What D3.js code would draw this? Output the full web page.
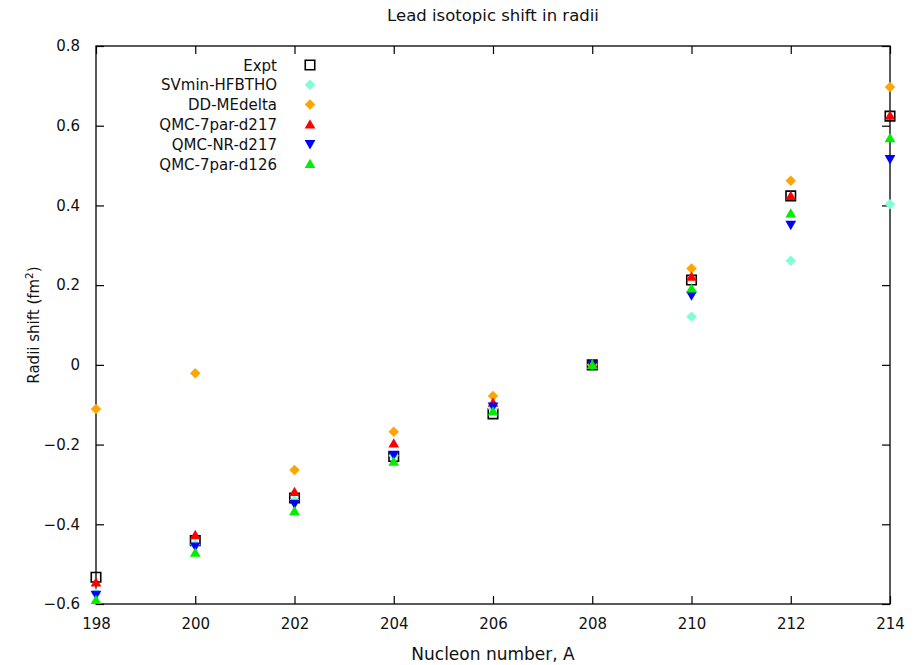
<!DOCTYPE html>
<html>
<head>
<meta charset="utf-8">
<script src="https://cdn.jsdelivr.net/npm/d3@7"></script>
<style>
  body { margin: 0; background: #fff; }
  text { font-family: "DejaVu Sans", sans-serif; fill: #111; }
</style>
</head>
<body>
<div id="chart_area"></div>
<script>
// nucleon numbers
var massNumbers = [198, 200, 202, 204, 206, 208, 210, 212, 214];

// shift in radii (fm^2) per series
var expt      = [-0.533, -0.441, -0.334, -0.230, -0.123, 0, 0.213, 0.424, 0.624];
var svmin     = [-0.573, -0.450, -0.340, -0.228, -0.110, 0, 0.121, 0.261, 0.403];
var ddme      = [-0.111, -0.021, -0.264, -0.168, -0.078, 0, 0.242, 0.462, 0.697];
var qmc7d217  = [-0.546, -0.427, -0.319, -0.197, -0.095, 0, 0.221, 0.424, 0.625];
var qmcNRd217 = [-0.577, -0.456, -0.349, -0.226, -0.105, 0, 0.174, 0.351, 0.516];
var qmc7d126  = [-0.590, -0.471, -0.367, -0.243, -0.117, 0, 0.192, 0.380, 0.569];

var seriesNames = ["Expt", "SVmin-HFBTHO", "DD-MEdelta", "QMC-7par-d217", "QMC-NR-d217", "QMC-7par-d126"];
var xTicks = [198, 200, 202, 204, 206, 208, 210, 212, 214];
var yTicks = [-0.6, -0.4, -0.2, 0, 0.2, 0.4, 0.6, 0.8];

var series = [
	{name: seriesNames[0], values: expt,      shape: "square",  color: "#000000"},
	{name: seriesNames[1], values: svmin,     shape: "diamond", color: "#7fffd4"},
	{name: seriesNames[2], values: ddme,      shape: "diamond", color: "#ffa500"},
	{name: seriesNames[3], values: qmc7d217,  shape: "up",      color: "#ff0000"},
	{name: seriesNames[4], values: qmcNRd217, shape: "down",    color: "#0000ff"},
	{name: seriesNames[5], values: qmc7d126,  shape: "up",      color: "#00ee00"}
];

// sizes
var margin = {top: 46, right: 27, bottom: 61, left: 96};
var frame_width = 917;
var frame_height = 665;
var canvas_width = frame_width - margin.left - margin.right;
var canvas_height = frame_height - margin.top - margin.bottom;

var frame = d3.select("#chart_area").append("svg")
	.attr("width", frame_width)
	.attr("height", frame_height);
var canvas = frame.append("g")
	.attr("transform", "translate(" + margin.left + "," + margin.top + ")");

var xScale = d3.scaleLinear().domain([198, 214]).range([0, canvas_width]);
var yScale = d3.scaleLinear().domain([-0.6, 0.8]).range([canvas_height, 0]);

// ticks inward, mirrored on all sides (gnuplot style)
var tickLen = 8;
var yFmt = function(d) { return d === 0 ? "0" : d3.format(".1f")(d); };

var xAxis = d3.axisBottom(xScale).tickValues(xTicks).tickSize(-tickLen).tickPadding(14).tickFormat(d3.format("d"));
var yAxis = d3.axisLeft(yScale).tickValues(yTicks).tickSize(-tickLen).tickPadding(16).tickFormat(yFmt);
var xTop = d3.axisTop(xScale).tickValues(xTicks).tickSize(-tickLen).tickFormat("");
var yRight = d3.axisRight(yScale).tickValues(yTicks).tickSize(-tickLen).tickFormat("");

function styleAxis(g) {
	g.select(".domain").remove();
	g.selectAll(".tick line").attr("stroke", "#000").attr("stroke-width", 1.2);
	g.selectAll(".tick text").style("font-size", "15px").attr("fill", "#111");
}

canvas.append("g").attr("transform", "translate(0," + canvas_height + ")").call(xAxis).call(styleAxis);
canvas.append("g").call(yAxis).call(styleAxis);
canvas.append("g").call(xTop).call(styleAxis);
canvas.append("g").attr("transform", "translate(" + canvas_width + ",0)").call(yRight).call(styleAxis);

// border
canvas.append("rect")
	.attr("width", canvas_width)
	.attr("height", canvas_height)
	.attr("fill", "none")
	.attr("stroke", "#000")
	.attr("stroke-width", 1.3);

// labels
frame.append("text")
	.attr("x", margin.left + canvas_width / 2)
	.attr("y", 21)
	.attr("text-anchor", "middle")
	.style("font-size", "16.5px")
	.text("Lead isotopic shift in radii");

frame.append("text")
	.attr("x", margin.left + canvas_width / 2)
	.attr("y", 660)
	.attr("text-anchor", "middle")
	.style("font-size", "17px")
	.text("Nucleon number, A");

var ylab = frame.append("text")
	.attr("transform", "translate(39," + (margin.top + canvas_height / 2) + ") rotate(-90)")
	.attr("text-anchor", "middle")
	.style("font-size", "15px");
ylab.append("tspan").text("Radii shift (fm");
ylab.append("tspan").attr("dy", -6).style("font-size", "10.5px").text("2");
ylab.append("tspan").attr("dy", 6).text(")");

// marker shapes
var symbols = {
	square: d3.symbol().type(d3.symbolSquare).size(90),
	diamond: d3.symbol().type(d3.symbolSquare).size(55),
	up: d3.symbol().type(d3.symbolTriangle).size(50),
	down: d3.symbol().type(d3.symbolTriangle).size(50)
};

function drawMarker(sel, s) {
	sel.attr("d", symbols[s.shape]())
		.attr("fill", s.shape === "square" ? "none" : s.color)
		.attr("stroke", s.shape === "square" ? s.color : "none")
		.attr("stroke-width", 1.6);
}

function markerTransform(s, x, y) {
	var t = "translate(" + x + "," + y + ")";
	if (s.shape === "diamond") t += " rotate(45)";
	if (s.shape === "down") t += " rotate(180)";
	if (s.shape === "up" || s.shape === "down") t += " translate(0,1)";
	return t;
}

var data_canvas = canvas.append("g").attr("class", "data_canvas");

series.forEach(function(s) {
	data_canvas.append("g").selectAll("path")
		.data(s.values)
		.enter()
		.append("path")
		.call(drawMarker, s)
		.attr("transform", function(d, i) { return markerTransform(s, xScale(massNumbers[i]), yScale(d)); });
});

// legend
var legend = canvas.append("g").attr("transform", "translate(0,19)");
series.forEach(function(s, i) {
	var row = legend.append("g").attr("transform", "translate(0," + (i * 19.8) + ")");
	row.append("text")
		.attr("x", 181)
		.attr("y", 5.5)
		.attr("text-anchor", "end")
		.style("font-size", "15px")
		.text(s.name);
	row.append("path")
		.call(drawMarker, s)
		.attr("transform", markerTransform(s, 214, 0));
});
</script>
</body>
</html>
